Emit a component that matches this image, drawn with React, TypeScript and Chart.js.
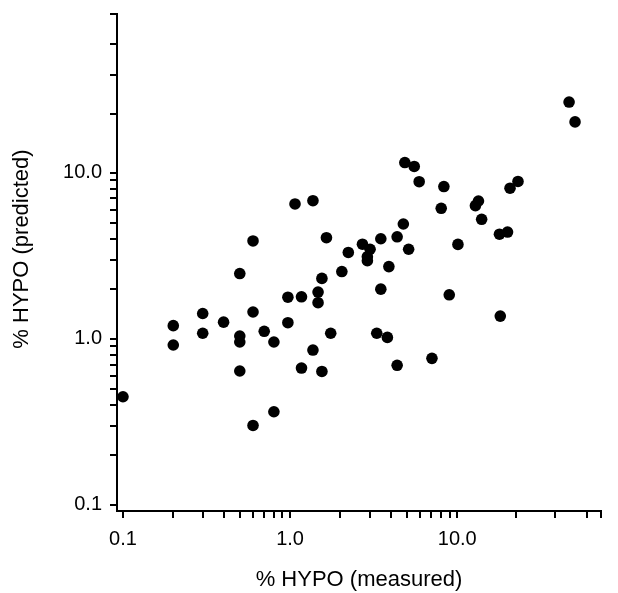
import React, { useEffect, useRef } from 'react';
import { Chart, registerables } from 'chart.js';

Chart.register(...registerables);

// % HYPO measured (x) and predicted (y)
const measured = [
  0.1, 0.2, 0.2, 0.3, 0.3, 0.4, 0.5, 0.5, 0.5, 0.5,
  0.6, 0.6, 0.6, 0.7, 0.8, 0.8, 0.97, 0.97, 1.07, 1.17,
  1.17, 1.37, 1.37, 1.47, 1.47, 1.55, 1.55, 1.65, 1.75, 2.04,
  2.23, 2.71, 3.01, 2.9, 2.9, 3.3, 3.49, 3.49, 3.82, 3.9,
  4.37, 4.37, 4.76, 4.86, 5.12, 5.53, 5.92, 7.06, 8.02, 8.32,
  8.96, 10.1, 12.85, 13.4, 14.0, 17.9, 18.1, 20.0, 20.7, 23.1,
  46.7, 50.7,
];
const predicted = [
  0.448, 1.2, 0.918, 1.42, 1.08, 1.26, 2.47, 1.04, 0.957, 0.64,
  3.88, 1.45, 0.301, 1.11, 0.957, 0.364, 1.78, 1.25, 6.48, 1.79,
  0.667, 6.78, 0.856, 1.91, 1.65, 2.31, 0.636, 4.06, 1.08, 2.54,
  3.31, 3.71, 3.46, 3.12, 2.95, 1.08, 4.0, 1.99, 1.02, 2.72,
  4.11, 0.693, 4.91, 11.5, 3.46, 10.9, 8.82, 0.763, 6.1, 8.25,
  1.84, 3.7, 6.33, 6.75, 5.24, 4.26, 1.37, 4.39, 8.06, 8.85,
  26.6, 20.2,
];

const xRange = [0.0921, 72.5];
const yRange = [0.092, 90.1];

const xTickValues = [
  0.1, 0.2, 0.3, 0.4, 0.5, 0.6, 0.7, 0.8, 0.9,
  1, 2, 3, 4, 5, 6, 7, 8, 9,
  10, 22.5, 38.5, 59.5, 72.5,
];
const yTickValues = [
  0.1, 0.2, 0.3, 0.4, 0.5, 0.6, 0.7, 0.8, 0.9,
  1, 2, 3, 4, 5, 6, 7, 8, 9,
  10, 22.5, 38.5, 59.5, 90.1,
];
const labeledTicks = [0.1, 1, 10];
const labeledTickText = ['0.1', '1.0', '10.0'];

const xTitle = '% HYPO (measured)';
const yTitle = '% HYPO (predicted)';

const FONT = '"Liberation Sans", Arial, Helvetica, sans-serif';

function tickLabel(value: number): string {
  for (let i = 0; i < labeledTicks.length; i++) {
    if (Math.abs(value - labeledTicks[i]) < 1e-6 * labeledTicks[i]) return labeledTickText[i];
  }
  return '';
}

const yTitlePlugin = {
  id: 'yTitleText',
  afterDraw(chart: any) {
    const ctx = chart.ctx;
    const area = chart.chartArea;
    ctx.save();
    ctx.translate(22, (area.top + area.bottom) / 2 - 13.5);
    ctx.rotate(-Math.PI / 2);
    ctx.font = '22px ' + FONT;
    ctx.fillStyle = '#000';
    ctx.textAlign = 'center';
    ctx.textBaseline = 'middle';
    ctx.fillText(yTitle, 0, 0);
    ctx.restore();
  },
};

export default function App() {
  const canvasRef = useRef<HTMLCanvasElement | null>(null);

  useEffect(() => {
    const canvas = canvasRef.current;
    if (!canvas) return;
    const points = measured.map((x, i) => ({ x, y: predicted[i] }));

    const commonGrid = {
      display: true,
      drawOnChartArea: false,
      drawTicks: true,
      tickLength: 7,
      color: '#000',
      lineWidth: 2,
    };
    const commonBorder = { display: true, color: '#000', width: 2 };

    const chart = new Chart(canvas, {
      type: 'scatter',
      data: {
        datasets: [
          {
            data: points,
            backgroundColor: '#000',
            borderColor: '#000',
            borderWidth: 0,
            pointRadius: 5.8,
            pointHoverRadius: 5.8,
          },
        ],
      },
      plugins: [yTitlePlugin],
      options: {
        animation: false,
        responsive: false,
        devicePixelRatio: 1,
        layout: { padding: { top: 14, right: 17, left: 0, bottom: 0 } },
        plugins: {
          legend: { display: false },
          tooltip: { enabled: false },
        },
        scales: {
          x: {
            type: 'logarithmic',
            position: 'bottom',
            min: xRange[0],
            max: xRange[1],
            afterBuildTicks: (scale: any) => {
              scale.ticks = xTickValues.map((v) => ({ value: v }));
            },
            afterFit: (scale: any) => {
              scale.height = 82;
              scale.paddingLeft = 0;
              scale.paddingRight = 0;
              scale.paddingTop = 0;
              scale.paddingBottom = 0;
            },
            ticks: {
              autoSkip: false,
              maxRotation: 0,
              minRotation: 0,
              padding: 9,
              color: '#000',
              font: { family: FONT, size: 20 },
              callback: (value: any) => tickLabel(Number(value)),
            },
            grid: commonGrid,
            border: commonBorder,
            title: {
              display: true,
              text: xTitle,
              color: '#000',
              font: { family: FONT, size: 22 },
              padding: { top: 0, bottom: 0 },
            },
          },
          y: {
            type: 'logarithmic',
            position: 'left',
            min: yRange[0],
            max: yRange[1],
            afterBuildTicks: (scale: any) => {
              scale.ticks = yTickValues.map((v) => ({ value: v }));
            },
            afterFit: (scale: any) => {
              scale.width = 117;
              scale.paddingLeft = 0;
              scale.paddingRight = 0;
              scale.paddingTop = 0;
              scale.paddingBottom = 0;
            },
            ticks: {
              autoSkip: false,
              padding: 8,
              color: '#000',
              font: { family: FONT, size: 20 },
              callback: (value: any) => tickLabel(Number(value)),
            },
            grid: commonGrid,
            border: commonBorder,
          },
        },
      },
    } as any);

    return () => {
      chart.destroy();
    };
  }, []);

  return (
    <div style={{ position: 'fixed', left: 0, top: 0, width: 618, height: 593, background: '#fff' }}>
      <canvas ref={canvasRef} width={618} height={593} style={{ display: 'block' }} />
    </div>
  );
}
